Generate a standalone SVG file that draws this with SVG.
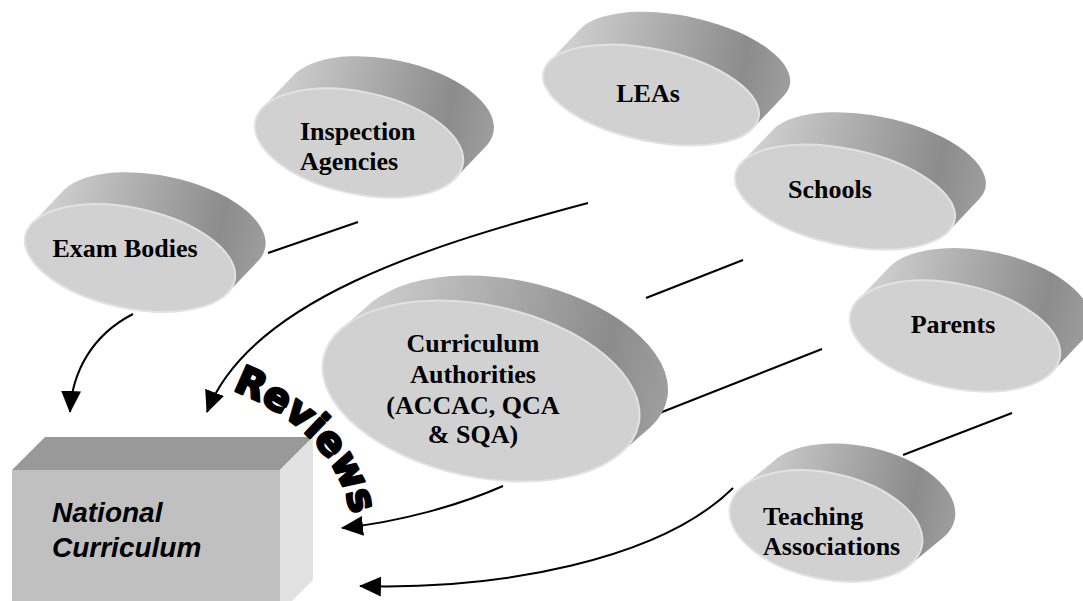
<svg xmlns="http://www.w3.org/2000/svg" width="1083" height="601" viewBox="0 0 1083 601">
<defs>
<style>
.side{fill:url(#sideg)}
.face{fill:#d1d1d1;stroke:#e2e2e2;stroke-width:2}
.lbl{font-family:"Liberation Serif","Times New Roman",serif;font-weight:bold;font-size:26px;fill:#000}
.mid{text-anchor:middle}
.con{fill:none;stroke:#000;stroke-width:2}
.arr{marker-end:url(#ah)}
</style>
<linearGradient id="sideg" x1="0" y1="0" x2="1" y2="0">
<stop offset="0" stop-color="#d6d6d6"/>
<stop offset="0.35" stop-color="#b5b5b5"/>
<stop offset="0.8" stop-color="#8c8c8c"/>
<stop offset="1" stop-color="#9e9e9e"/>
</linearGradient>
<marker id="ah" markerUnits="userSpaceOnUse" markerWidth="22" markerHeight="22" viewBox="0 0 22 22" refX="21" refY="11" orient="auto">
<path d="M0,1 L22,11 L0,21 z" fill="#000"/>
</marker>
<path id="revpath" d="M232,390 Q337,430 353,522"/>
</defs>
<rect width="1083" height="601" fill="#fff"/>

<g id="connectors">
<line class="con" x1="268" y1="253" x2="358" y2="222"/>
<line class="con" x1="646" y1="298" x2="743" y2="260"/>
<line class="con" x1="657" y1="414" x2="822" y2="349"/>
<line class="con" x1="903" y1="455" x2="1012" y2="413"/>
<path class="con arr" d="M133,314 C92,335 72,372 70,412"/>
<path class="con arr" d="M588,203 C430,245 250,300 207,412"/>
<path class="con arr" d="M503,486 C460,505 400,522 342,528"/>
<path class="con arr" d="M733,488 C660,560 500,590 360,586"/>
</g>

<g id="exam-bodies">
<g transform="translate(130,258) rotate(12)">
<path class="side" d="M-102.8,-13.8 L-78.8,-52.8 A107,50 0 0 1 126.8,-25.2 L102.8,13.8 A107,50 0 0 1 -102.8,-13.8 Z"/>
<ellipse class="face" cx="0" cy="0" rx="107" ry="50"/>
</g>
<text class="lbl mid" x="125" y="257">Exam Bodies</text>
</g>

<g id="inspection-agencies">
<g transform="translate(359,143) rotate(12)">
<path class="side" d="M-101.6,-14.5 L-77.6,-53.5 A106,51 0 0 1 125.6,-24.5 L101.6,14.5 A106,51 0 0 1 -101.6,-14.5 Z"/>
<ellipse class="face" cx="0" cy="0" rx="106" ry="51"/>
</g>
<text class="lbl" x="300" y="140">Inspection</text>
<text class="lbl" x="300" y="170">Agencies</text>
</g>

<g id="leas">
<g transform="translate(651,95) rotate(12)">
<path class="side" d="M-106.5,-11.5 L-82.5,-50.5 A110,46 0 0 1 130.5,-27.5 L106.5,11.5 A110,46 0 0 1 -106.5,-11.5 Z"/>
<ellipse class="face" cx="0" cy="0" rx="110" ry="46"/>
</g>
<text class="lbl mid" x="648" y="102">LEAs</text>
</g>

<g id="schools">
<g transform="translate(845,197) rotate(12)">
<path class="side" d="M-108.3,-12.2 L-84.3,-51.2 A112,48 0 0 1 132.3,-26.8 L108.3,12.2 A112,48 0 0 1 -108.3,-12.2 Z"/>
<ellipse class="face" cx="0" cy="0" rx="112" ry="48"/>
</g>
<text class="lbl mid" x="830" y="198">Schools</text>
</g>

<g id="parents">
<g transform="translate(955,336) rotate(12)">
<path class="side" d="M-102.5,-14.9 L-78.5,-53.9 A107,52 0 0 1 126.5,-24.1 L102.5,14.9 A107,52 0 0 1 -102.5,-14.9 Z"/>
<ellipse class="face" cx="0" cy="0" rx="107" ry="52"/>
</g>
<text class="lbl mid" x="953" y="333">Parents</text>
</g>

<g id="curriculum-authorities">
<g transform="translate(481,391) rotate(12)">
<path class="side" d="M-149.4,-32 L-125.4,-64 A161,86 0 0 1 173.4,0 L149.4,32 A161,86 0 0 1 -149.4,-32 Z"/>
<ellipse class="face" cx="0" cy="0" rx="161" ry="86"/>
</g>
<text class="lbl mid" x="473" y="352">Curriculum</text>
<text class="lbl mid" x="473" y="383">Authorities</text>
<text class="lbl mid" x="473" y="414">(ACCAC, QCA</text>
<text class="lbl mid" x="473" y="443">&amp; SQA)</text>
</g>

<g id="teaching-associations">
<g transform="translate(826,526) rotate(12)">
<path class="side" d="M-89.9,-21 L-61.9,-56 A98,53 0 0 1 117.9,-14 L89.9,21 A98,53 0 0 1 -89.9,-21 Z"/>
<ellipse class="face" cx="0" cy="0" rx="98" ry="53"/>
</g>
<text class="lbl" x="763" y="525">Teaching</text>
<text class="lbl" x="763" y="555">Associations</text>
</g>

<g id="national-curriculum">
<polygon points="12,470 280,470 313,437 45,437" fill="#999999"/>
<polygon points="280,470 313,437 313,580 280,613" fill="#e2e2e2"/>
<rect x="12" y="470" width="268" height="143" fill="#c0c0c0"/>
<text x="52" y="522" font-family="'Liberation Sans',Arial,sans-serif" font-weight="bold" font-style="italic" font-size="28">National</text>
<text x="52" y="557" font-family="'Liberation Sans',Arial,sans-serif" font-weight="bold" font-style="italic" font-size="28">Curriculum</text>
</g>

<g id="reviews-label">
<text font-family="'DejaVu Sans',sans-serif" font-weight="bold" font-size="39" fill="#000" stroke="#000" stroke-width="2.5" stroke-linejoin="round"><textPath href="#revpath">Reviews</textPath></text>
</g>
</svg>
